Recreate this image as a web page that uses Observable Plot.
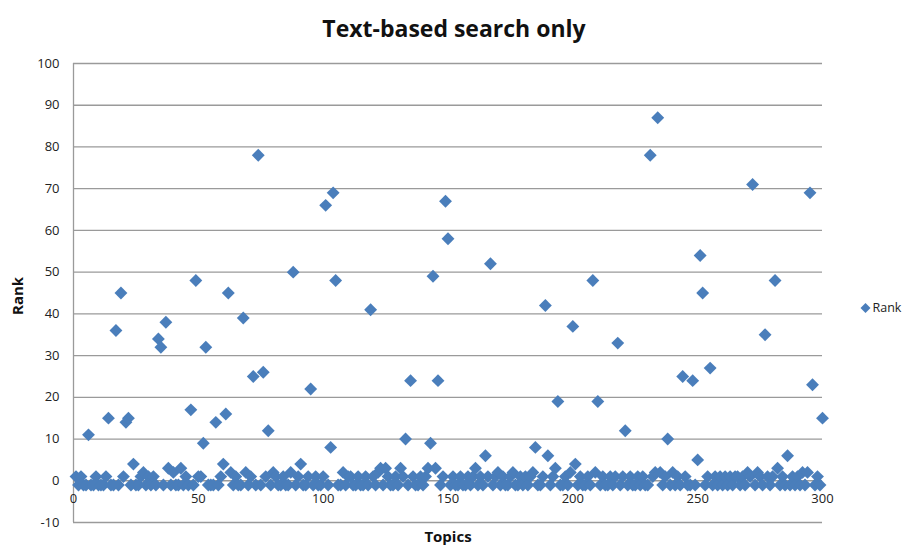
<!DOCTYPE html>
<html><head><meta charset="utf-8">
<script src="https://cdn.jsdelivr.net/npm/d3@7"></script>
<script src="https://cdn.jsdelivr.net/npm/@observablehq/plot@0.6"></script>
<style>body{margin:0;background:#fff} svg{display:block}</style>
</head><body><div id="chart"></div>
<script>
// Rank of the relevant result for each topic (topics 1..300); -1 = not found
const ranks = [
  1, -1, 1, -1, -1, 11, -1, -1, 1, -1,
  -1, -1, 1, 15, -1, -1, 36, -1, 45, 1,
  14, 15, -1, 4, -1, -1, 1, 2, -1, 1,
  -1, 1, -1, 34, 32, -1, 38, 3, -1, 2,
  -1, -1, 3, -1, 1, -1, 17, -1, 48, 1,
  1, 9, 32, -1, -1, -1, 14, -1, 1, 4,
  16, 45, 2, -1, 1, -1, -1, 39, 2, -1,
  1, 25, -1, 78, -1, 26, 1, 12, -1, 2,
  1, -1, -1, 1, -1, -1, 2, 50, -1, 1,
  4, -1, -1, 1, 22, -1, 1, -1, -1, 1,
  66, -1, 8, 69, 48, -1, -1, 2, -1, 1,
  1, -1, -1, 1, -1, -1, 1, -1, 41, 1,
  -1, 2, 3, -1, 3, 1, -1, -1, 1, -1,
  3, 1, 10, -1, 24, 1, -1, -1, 1, -1,
  1, 3, 9, 49, 3, 24, -1, 1, 67, 58,
  -1, 1, -1, -1, 1, -1, -1, 1, -1, 1,
  3, -1, 1, -1, 6, 1, 52, -1, 1, 2,
  -1, 1, -1, -1, 1, 2, -1, -1, 1, -1,
  1, -1, 1, 2, 8, -1, -1, 1, 42, 6,
  -1, 1, 3, 19, -1, -1, 1, -1, 2, 37,
  4, -1, 1, -1, -1, 1, -1, 48, 2, 19,
  -1, 1, -1, -1, 1, -1, 1, 33, -1, 1,
  12, -1, 1, -1, -1, 1, -1, 1, -1, -1,
  78, 1, 2, 87, 2, -1, 1, 10, -1, 2,
  -1, 1, -1, 25, 1, -1, -1, 24, -1, 5,
  54, 45, -1, 1, 27, -1, 1, -1, 1, -1,
  1, -1, 1, -1, 1, 1, -1, 1, -1, 2,
  1, 71, -1, 2, 1, -1, 35, 1, -1, 1,
  48, 3, -1, 1, -1, 6, -1, 1, -1, 1,
  -1, 2, -1, 2, 69, 23, -1, 1, -1, 15
];
const xTicks = [0, 50, 100, 150, 200, 250, 300];
const yTicks = [-10, 0, 10, 20, 30, 40, 50, 60, 70, 80, 90, 100];
const titleText = "Text-based search only";
const xLabel = "Topics";
const yLabel = "Rank";
const seriesName = "Rank";

const data = ranks.map((r, i) => ({topic: i + 1, rank: r}));
const blue = "#4a7ebb";
const grid = "#9a9a9a";
const font = "'Open Sans', sans-serif";

const chart = Plot.plot({
  width: 904, height: 547,
  marginLeft: 73, marginRight: 82, marginTop: 63, marginBottom: 25,
  x: {domain: [0, 300], axis: null},
  y: {domain: [-10, 100], axis: null},
  style: {fontFamily: font, background: "#fff", color: "#222"},
  marks: [
    Plot.ruleY(yTicks, {y: d => d, stroke: grid, strokeWidth: 1.3}),
    Plot.ruleX([0], {x: d => d, stroke: grid, strokeWidth: 1.3}),
    Plot.text(yTicks, {x: 0, y: d => d, text: d => String(d), textAnchor: "end", dx: -14, fontSize: 13, fill: "#222"}),
    Plot.text(xTicks, {x: d => d, y: 0, text: d => String(d), dy: 18, fontSize: 13, fill: "#222"}),
    Plot.dot(data, {x: "topic", y: "rank", symbol: "diamond2", r: 5.8, fill: blue, stroke: "none"}),
    Plot.text([titleText], {frameAnchor: "top", text: d => d, dx: 6, dy: -27, lineAnchor: "bottom", fontSize: 23, fontWeight: "bold", fill: "#111"}),
    Plot.text([xLabel], {frameAnchor: "bottom", text: d => d, dy: 19, fontSize: 15, fontWeight: "bold", fill: "#111"}),
    Plot.text([yLabel], {frameAnchor: "left", text: d => d, dx: -55, dy: 22, rotate: -90, fontSize: 15, fontWeight: "bold", fill: "#111"}),
    Plot.dot([seriesName], {frameAnchor: "right", symbol: "diamond2", r: 4.5, fill: blue, dx: 43, dy: 15}),
    Plot.text([seriesName], {frameAnchor: "right", text: d => d, textAnchor: "start", dx: 50, dy: 15, fontSize: 12.5, fill: "#222"})
  ]
});
document.getElementById("chart").appendChild(chart);
</script>
</body></html>
